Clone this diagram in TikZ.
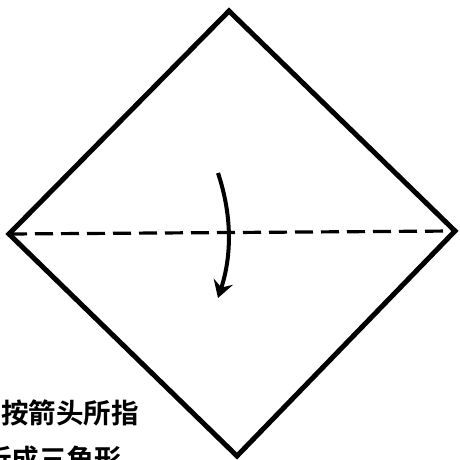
\documentclass[tikz,border=0pt]{standalone}
\usepackage{fontspec}
\newfontfamily\cjk{Noto Sans CJK SC}[BoldFont={Noto Sans CJK SC Bold}]
\usetikzlibrary{arrows.meta}
\definecolor{ink}{HTML}{000000}
\tikzset{
  fold/.style  = {draw=ink, line width=5pt, line join=miter},
  crease/.style = {draw=ink, line width=3.2pt, dash pattern=on 18pt off 8pt},
  turn/.style  = {draw=ink, line width=4pt,
                  -{Stealth[length=17pt, width=20pt, inset=6pt]}},
  note/.style  = {font=\cjk\bfseries\fontsize{27.5pt}{27.5pt}\selectfont,
                  text=ink, inner sep=0pt, anchor=west},
}
\begin{document}
\begin{tikzpicture}[x=1pt, y=-1pt]
  \useasboundingbox (0,0) rectangle (459,460);

  % corners of the square
  \coordinate (top)    at (229,11);
  \coordinate (left)   at (9,234);
  \coordinate (right)  at (455,231);
  \coordinate (bottom) at (237,456);

  % square sheet
  \draw[fold] (top) -- (right) -- (bottom) -- (left) -- cycle;

  % fold line
  \draw[crease] (left) -- (right);

  % fold arrow
  \coordinate (turnstart) at (218,173);
  \coordinate (turnend)   at (218,298);
  \draw[turn] (turnstart) .. controls (232,215) and (232,255) .. (turnend);

  % caption
  \node[note] (cap1) at (1,412.5) {按箭头所指};
  \node[note] (cap2) at (-16,459.5) {折成三角形};

\end{tikzpicture}
\end{document}
